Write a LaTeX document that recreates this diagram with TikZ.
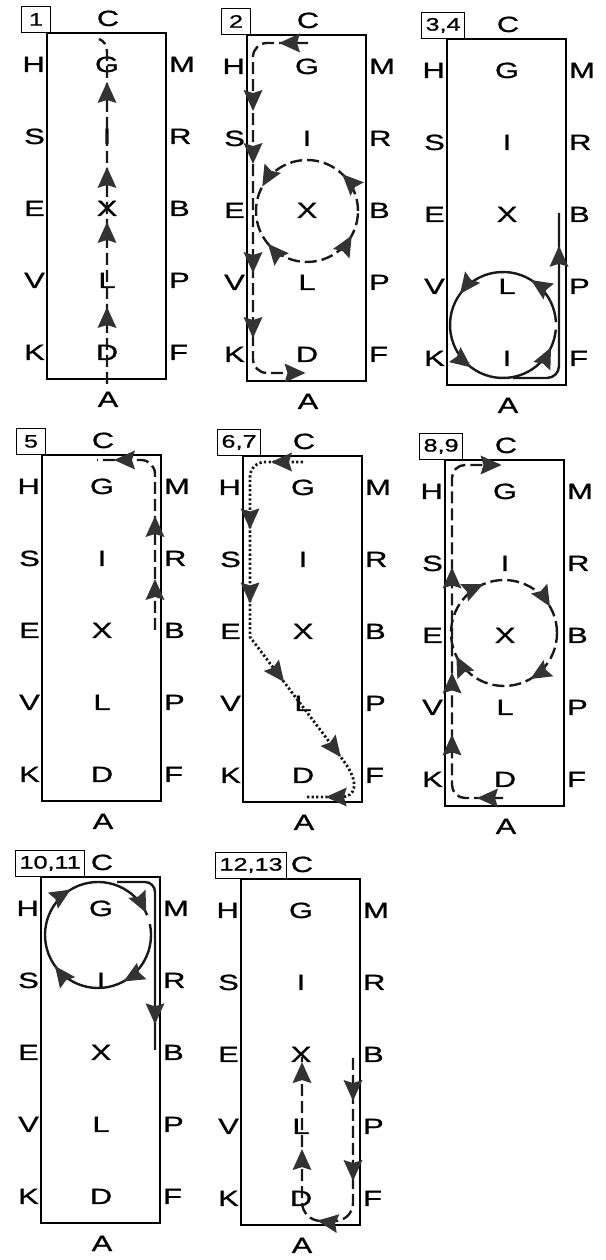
\documentclass[tikz,border=0pt]{standalone}
\usepackage{fontspec}
\setmainfont[FakeStretch=1.4,FakeBold=1]{Liberation Sans}
\usetikzlibrary{decorations.markings}

\tikzset{
  box/.style={draw, line width=1.3pt},
  tag/.style={draw, line width=1.1pt, inner xsep=4pt, inner ysep=0pt,
    minimum width=29pt, minimum height=26pt, font=\fontsize{18}{18}\selectfont},
  letter/.style={inner sep=0pt, font=\fontsize{22}{22}\selectfont},
  route/.style={line width=2.4pt, draw=black!90},
  dashroute/.style={route, dash pattern=on 12pt off 5pt},
  dotroute/.style={route, line width=2.8pt, dash pattern=on 2.3pt off 2.3pt},
  mk/.style={postaction={decorate, decoration={markings,
    mark=at position #1 with {\fill[black!80] (1,0) -- (-20,9.5) -- (-17,0) -- (-20,-9.5) -- cycle;}}}},
  rmk/.style={postaction={decorate, decoration={markings,
    mark=at position #1 with {\fill[black!80] (-1,0) -- (20,9.5) -- (17,0) -- (20,-9.5) -- cycle;}}}}
}

% one stage: box, tag and the 17 letters
\newcommand{\panel}[3]{%
  \draw[box] (0,0) rectangle (119,346);
  \node[tag, anchor=south west] (#1tag) at (-26,346) {#2};
  \node[letter, anchor=base] (#1C) at (61,353) {C};
  \node[letter, anchor=base] (#1A) at (61,-28) {A};
  \foreach \w/\m/\e [count=\i from 0] in {K/#3/F, V/L/P, E/X/B, S/I/R, H/G/M} {
    \node[letter, anchor=base east] (#1\w) at (-2, 19+72*\i) {\w};
    \node[letter, anchor=base] (#1mid\i) at (60, 19+72*\i) {\m};
    \node[letter, anchor=base west] (#1\e) at (122, 19+72*\i) {\e};
  }
}

\begin{document}
\begin{tikzpicture}[x=1pt, y=1pt]
\useasboundingbox (0,0) rectangle (605,1260);

% 1
\begin{scope}[shift={(47,881)}]
\panel{p1}{1}{D}
\draw[dashroute, mk=76pt, mk=161pt, mk=216pt, mk=301pt]
  (60,-5) -- (60,326) .. controls (60,334) and (57,338) .. (52,340);
\end{scope}

% 2
\begin{scope}[shift={(247,879)}]
\panel{p2}{2}{D}
\draw[dashroute, mk=28pt, mk=116pt, mk=169pt, mk=278pt, mk=343pt, mk=-0.5pt]
  (61,338) -- (20,338) arc[start angle=90, end angle=180, radius=14]
  -- (6,22) arc[start angle=180, end angle=270, radius=14] -- (58,8);
\draw[dashroute, mk=.125, mk=.417, rmk=.614, mk=.917] (60,170) circle[radius=51];
\end{scope}

% 3,4
\begin{scope}[shift={(447,875)}]
\panel{p3}{3,4}{I}
\draw[route, mk=.153, mk=.398, mk=.651, mk=.94]
  ([shift={(3:53)}]56,60) arc[start angle=3, end angle=355, radius=53];
\draw[route, mk=172pt]
  (66,7) -- (100,7) arc[start angle=270, end angle=360, radius=12] -- (112,172);
\end{scope}

% 5
\begin{scope}[shift={(42,459)}]
\panel{p5}{5}{D}
\draw[dashroute, mk=50pt, mk=113pt, mk=204pt]
  (113,171) -- (113,327) arc[start angle=0, end angle=90, radius=14] -- (55,341);
\end{scope}

% 6,7
\begin{scope}[shift={(243,458)}]
\panel{p6}{6,7}{D}
\draw[dotroute, mk=31pt, mk=113pt, mk=187pt, mk=277pt, mk=371pt, mk=438pt]
  (60,340) -- (22,340) arc[start angle=90, end angle=180, radius=15]
  -- (7,165) -- (100,42) .. controls (118,18) and (112,5) .. (98,5) -- (62,5);
\end{scope}

% 8,9
\begin{scope}[shift={(445,454)}]
\panel{p8}{8,9}{D}
\draw[dashroute, mk=25pt, mk=108pt, mk=170pt, mk=275pt, mk=-0.5pt]
  (58,8) -- (20,8) arc[start angle=270, end angle=180, radius=13]
  -- (7,328) arc[start angle=180, end angle=90, radius=13] -- (56,341);
\draw[dashroute, rmk=.086, rmk=.317, rmk=.575, rmk=.836] (59,173) circle[radius=53];
\end{scope}

% 10,11
\begin{scope}[shift={(41,37)}]
\panel{p10}{10,11}{D}
\draw[route, rmk=.011, rmk=.286, rmk=.557, rmk=.794]
  ([shift={(22:53)}]57,288) arc[start angle=22, end angle=372, radius=53];
\draw[route, mk=175pt]
  (76,341) -- (104,341) arc[start angle=90, end angle=0, radius=10] -- (114,173);
\end{scope}

% 12,13
\begin{scope}[shift={(241,35)}]
\panel{p12}{12,13}{D}
\draw[dashroute, mk=42pt, mk=122pt, mk=190pt, mk=269pt, mk=356pt]
  (112,167) -- (112,22) arc[start angle=0, end angle=-90, radius=18]
  -- (80,4) arc[start angle=270, end angle=180, radius=19] -- (61,168);
\end{scope}

\end{tikzpicture}
\end{document}
